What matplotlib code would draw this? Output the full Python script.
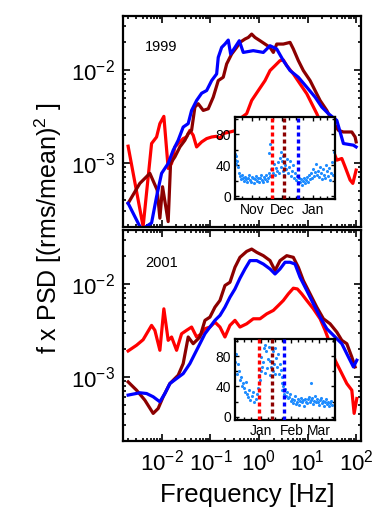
import matplotlib
matplotlib.use("Agg")
import matplotlib.pyplot as plt
import matplotlib.dates as mdates
from matplotlib.ticker import LogLocator, NullFormatter, MultipleLocator
import numpy as np
import pandas as pd

plt.rcParams["font.family"] = ["Liberation Sans", "DejaVu Sans"]
plt.rcParams["mathtext.fontset"] = "custom"
plt.rcParams["mathtext.rm"] = "Liberation Sans"
plt.rcParams["mathtext.it"] = "Liberation Sans"

# ---- spectra, stored as log10(f [Hz]) and log10(f x PSD) ----
# 1999
logf_99_blue = [-2.695, -2.419, -2.212, -2.109, -2.006, -1.870, -1.767, -1.664, -1.561, -1.458,
                -1.388, -1.285, -1.181, -1.078, -0.975, -0.872, -0.839, -0.769, -0.701, -0.633,
                -0.584, -0.495, -0.406, -0.324, -0.118, 0.089, 0.227, 0.365, 0.501, 0.639,
                0.810, 0.984, 1.155, 1.293, 1.429, 1.602, 1.738, 1.944, 2.0]
logp_99_blue = [-3.435, -3.72, -3.646, -3.364, -3.113, -3.006, -2.864, -2.757, -2.615, -2.578,
                -2.436, -2.329, -2.251, -2.222, -2.115, -2.043, -1.865, -1.758, -1.722, -1.679,
                -1.829, -1.758, -1.686, -1.812, -1.793, -1.812, -1.740, -1.775, -1.900, -2.007,
                -2.079, -2.186, -2.293, -2.400, -2.471, -2.543, -2.792, -2.810, -2.829]

logf_99_dred = [-2.695, -2.454, -2.247, -2.097, -2.041, -1.986, -1.870, -1.821, -1.732, -1.629,
                -1.526, -1.458, -1.388, -1.320, -1.252, -1.148, -1.045, -0.942, -0.839, -0.736,
                -0.666, -0.563, -0.460, -0.392, -0.289, -0.221, -0.151, -0.082, 0.021, 0.124,
                0.227, 0.295, 0.365, 0.501, 0.639, 0.707, 0.810, 0.913, 1.052, 1.155,
                1.258, 1.396, 1.499, 1.635, 1.738, 1.911, 1.979, 2.0]
logp_99_dred = [-3.435, -3.221, -3.113, -3.292, -3.595, -3.257, -3.632, -3.006, -2.936, -2.829,
                -2.757, -2.685, -2.650, -2.400, -2.364, -2.436, -2.418, -2.293, -2.115, -2.079,
                -1.936, -1.829, -1.758, -1.704, -1.668, -1.651, -1.615, -1.651, -1.686, -1.722,
                -1.758, -1.812, -1.722, -1.722, -1.704, -1.775, -1.900, -2.007, -2.115, -2.222,
                -2.329, -2.436, -2.543, -2.650, -2.668, -2.668, -2.722, -2.775]

logf_99_red = [-2.695, -2.386, -2.212, -2.109, -2.041, -1.959, -1.870, -1.800, -1.732, -1.629,
               -1.561, -1.491, -1.423, -1.355, -1.285, -1.181, -1.078, -0.975, -0.872, -0.804,
               -0.736, -0.598, -0.460, -0.392, -0.254, -0.151, -0.014, 0.124, 0.227, 0.330,
               0.433, 0.501, 0.571, 0.707, 0.845, 0.984, 1.087, 1.190, 1.293, 1.396,
               1.499, 1.602, 1.705, 1.773, 1.876, 1.932, 2.0]
logp_99_red = [-2.821, -3.685, -2.792, -2.722, -2.578, -2.500, -3.060, -3.006, -2.829, -2.775,
               -2.739, -2.722, -2.650, -2.703, -2.829, -2.775, -2.739, -2.722, -2.714, -2.739,
               -2.685, -2.668, -2.650, -2.525, -2.471, -2.329, -2.222, -2.115, -2.007, -1.954,
               -1.900, -1.893, -1.954, -2.043, -2.150, -2.257, -2.364, -2.471, -2.596, -2.722,
               -2.829, -2.971, -2.953, -3.043, -3.185, -3.221, -3.078]

# 2001
logf_01_blue = [-2.695, -2.454, -2.315, -2.179, -2.041, -1.938, -1.835, -1.697, -1.561, -1.423,
                -1.320, -1.216, -1.113, -1.010, -0.907, -0.804, -0.701, -0.598, -0.495, -0.392,
                -0.289, -0.186, -0.047, 0.089, 0.227, 0.330, 0.433, 0.536, 0.639, 0.742,
                0.845, 0.984, 1.120, 1.258, 1.396, 1.567, 1.705, 1.841, 1.944, 2.014]
logp_01_blue = [-3.196, -3.171, -3.179, -3.214, -3.268, -3.179, -3.072, -3.018, -2.965, -2.857,
                -2.750, -2.643, -2.536, -2.464, -2.392, -2.339, -2.250, -2.143, -2.054, -1.939,
                -1.839, -1.749, -1.749, -1.786, -1.839, -1.893, -1.839, -1.767, -1.767, -1.786,
                -1.928, -2.071, -2.214, -2.357, -2.482, -2.571, -2.643, -2.786, -2.893, -2.821]

logf_01_dred = [-2.695, -2.522, -2.351, -2.179, -2.076, -1.973, -1.835, -1.664, -1.561, -1.458,
                -1.355, -1.216, -1.113, -1.010, -0.907, -0.804, -0.701, -0.598, -0.495, -0.392,
                -0.254, -0.151, -0.047, 0.089, 0.227, 0.330, 0.433, 0.571, 0.707, 0.810,
                0.913, 1.052, 1.190, 1.326, 1.464, 1.602, 1.705, 1.808, 1.911, 1.979]
logp_01_dred = [-3.054, -3.143, -3.250, -3.393, -3.340, -3.214, -3.072, -2.982, -2.857, -2.571,
                -2.643, -2.571, -2.392, -2.357, -2.250, -2.178, -2.017, -1.982, -1.821, -1.714,
                -1.650, -1.625, -1.660, -1.696, -1.749, -1.856, -1.749, -1.696, -1.714, -1.821,
                -1.964, -2.107, -2.250, -2.375, -2.429, -2.518, -2.607, -2.643, -2.786, -2.893]

logf_01_red = [-2.695, -2.522, -2.386, -2.212, -2.144, -2.041, -1.959, -1.870, -1.800, -1.697,
               -1.594, -1.491, -1.388, -1.285, -1.181, -1.113, -1.010, -0.907, -0.804, -0.701,
               -0.598, -0.495, -0.392, -0.254, -0.118, 0.021, 0.159, 0.295, 0.398, 0.501,
               0.604, 0.707, 0.790, 0.880, 0.984, 1.120, 1.258, 1.361, 1.464, 1.567,
               1.670, 1.808, 1.911, 1.959, 2.014]
logp_01_red = [-2.721, -2.660, -2.600, -2.446, -2.499, -2.714, -2.268, -2.607, -2.571, -2.714,
               -2.536, -2.499, -2.464, -2.571, -2.536, -2.482, -2.464, -2.411, -2.464, -2.571,
               -2.446, -2.392, -2.464, -2.429, -2.375, -2.375, -2.322, -2.285, -2.232, -2.178,
               -2.107, -2.046, -2.054, -2.107, -2.178, -2.268, -2.375, -2.499, -2.643, -2.821,
               -2.928, -3.072, -3.143, -3.393, -3.233]

# ---- inset time series: day offset from start date, value ----
start_99 = "1999-10-15"
end_99 = "2000-01-23"
days_99 = [0, 0, 1, 1, 2, 3, 4, 5, 6, 7, 8, 9, 10, 11, 12, 13, 14, 15, 16, 17, 18, 19, 20,
           21, 22, 23, 24, 25, 26, 27, 28, 29, 30, 31, 32, 33, 34, 34, 35, 35, 36, 37, 38,
           39, 40, 41, 42, 43, 44, 45, 46, 46, 47, 48, 48, 49, 50, 51, 52, 53, 54, 55, 56,
           57, 58, 59, 60, 61, 62, 63, 64, 65, 66, 67, 68, 69, 70, 71, 72, 73, 74, 75, 76,
           77, 78, 79, 80, 81, 82, 83, 84, 85, 86, 87, 88, 89, 90, 91, 92, 93, 94, 95, 96,
           97, 98, 99]
vals_99 = [55, 47, 52, 42, 45, 38, 30, 26, 22, 28, 24, 20, 25, 22, 18, 24, 27, 21, 19, 25, 23,
           17, 22, 26, 20, 24, 19, 23, 28, 21, 18, 25, 22, 27, 20, 24, 30, 56, 68, 26, 35, 62,
           30, 42, 27, 36, 33, 44, 30, 50, 38, 57, 45, 32, 52, 28, 40, 35, 48, 30, 38, 45, 26,
           33, 40, 24, 30, 21, 26, 19, 24, 18, 22, 15, 20, 23, 17, 21, 25, 19, 28, 22, 30, 24,
           35, 26, 31, 42, 28, 33, 25, 38, 30, 22, 35, 28, 24, 40, 32, 26, 36, 21, 30, 44, 28,
           57]
events_99 = ["1999-11-21", "1999-12-03", "1999-12-17"]
months_99 = ["1999-11-01", "1999-12-01", "2000-01-01"]
month_names_99 = ["Nov", "Dec", "Jan"]

start_01 = "2000-12-06"
end_01 = "2001-03-17"
days_01 = [0, 1, 2, 3, 4, 5, 6, 7, 8, 9, 10, 11, 12, 13, 14, 15, 17, 18, 19, 21, 22, 23, 24,
           25, 26, 26, 27, 28, 29, 30, 30, 31, 32, 33, 34, 35, 35, 36, 37, 38, 38, 39, 40,
           40, 41, 42, 43, 44, 45, 46, 47, 48, 48, 49, 50, 51, 52, 53, 54, 55, 56, 57, 58,
           59, 60, 61, 62, 63, 64, 65, 66, 67, 68, 69, 70, 71, 72, 73, 74, 75, 76, 77, 77,
           78, 79, 80, 81, 82, 83, 84, 85, 86, 87, 88, 89, 90, 91, 92, 93, 94, 95, 96, 97,
           98]
vals_01 = [72, 83, 57, 70, 60, 48, 52, 40, 44, 38, 33, 46, 30, 26, 35, 22, 28, 33, 20, 24, 30,
           38, 55, 48, 61, 79, 66, 72, 90, 94, 58, 87, 64, 76, 92, 74, 55, 66, 81, 87, 60, 70,
           57, 90, 78, 65, 83, 56, 70, 62, 45, 35, 52, 40, 30, 37, 28, 33, 25, 26, 30, 21, 24,
           18, 22, 27, 17, 20, 23, 16, 21, 25, 19, 22, 15, 24, 20, 18, 23, 26, 19, 44, 22, 25,
           17, 21, 28, 19, 24, 20, 16, 22, 25, 18, 21, 14, 19, 23, 17, 20, 15, 18, 21, 16]
events_01 = ["2000-12-30", "2001-01-12", "2001-01-25"]
months_01 = ["2001-01-01", "2001-02-01", "2001-03-01"]
month_names_01 = ["Jan", "Feb", "Mar"]

BLUE = (0, 0, 1)
DRED = (0.55, 0, 0)
RED = (1, 0, 0)
EVENT_COLORS = [RED, DRED, BLUE]
DOT = "#1e8cff"


def style_main(ax, show_x):
    ax.set_xscale("log")
    ax.set_yscale("log")
    ax.set_xlim(10 ** -2.8, 10 ** 2.1)
    ax.set_ylim(10 ** -3.69, 10 ** -1.42)
    ax.set_yticks([1e-3, 1e-2])
    ax.set_yticklabels([r"$10^{-3}$", r"$10^{-2}$"])
    ax.set_xticks([1e-2, 1e-1, 1, 10, 100])
    if show_x:
        ax.set_xticklabels([r"$10^{-2}$", r"$10^{-1}$", r"$10^{0}$", r"$10^{1}$", r"$10^{2}$"])
    else:
        ax.set_xticklabels([])
    ax.xaxis.set_minor_locator(LogLocator(base=10, subs=np.arange(2, 10), numticks=20))
    ax.yaxis.set_minor_locator(LogLocator(base=10, subs=np.arange(2, 10), numticks=20))
    ax.xaxis.set_minor_formatter(NullFormatter())
    ax.yaxis.set_minor_formatter(NullFormatter())
    ax.tick_params(which="both", direction="in", top=True, right=True, labelsize=16, width=1.2)
    ax.tick_params(which="major", length=5, pad=6)
    ax.tick_params(which="minor", length=2.5)
    for s in ax.spines.values():
        s.set_linewidth(1.6)


def draw_inset(fig, rect, start, end, days, vals, events, months, names):
    ins = fig.add_axes(rect)
    dates = pd.to_datetime(start) + pd.to_timedelta(days, unit="D")
    ins.scatter(dates, vals, s=5, color=DOT, linewidths=0, zorder=2)
    for d, c in zip(events, EVENT_COLORS):
        ins.axvline(pd.to_datetime(d), color=c, lw=2.4, linestyle=(0, (1.2, 0.9)), zorder=3)
    ins.set_xlim(pd.to_datetime(start), pd.to_datetime(end))
    ins.set_ylim(-4, 102)
    ins.set_yticks([0, 40, 80])
    ins.yaxis.set_minor_locator(MultipleLocator(20))
    ins.set_xticks(pd.to_datetime(months))
    ins.set_xticklabels(names)
    ins.xaxis.set_minor_locator(mdates.DayLocator(bymonthday=[8, 15, 22]))
    ins.tick_params(which="both", direction="in", top=True, right=True, labelsize=10, width=1)
    ins.tick_params(which="major", length=3, pad=3)
    ins.tick_params(which="minor", length=2)
    for s in ins.spines.values():
        s.set_linewidth(1.6)
    return ins


fig = plt.figure(figsize=(3.73, 5.14), dpi=100)

ax1 = fig.add_axes([0.3298, 0.5584, 0.638, 0.4105])
ax1.plot(10 ** np.array(logf_99_red), 10 ** np.array(logp_99_red), color=RED, lw=2.3)
ax1.plot(10 ** np.array(logf_99_dred), 10 ** np.array(logp_99_dred), color=DRED, lw=2.3)
ax1.plot(10 ** np.array(logf_99_blue), 10 ** np.array(logp_99_blue), color=BLUE, lw=2.3)
style_main(ax1, show_x=False)
ax1.text(0.092, 0.855, "1999", transform=ax1.transAxes, fontsize=10.5, va="center")

ax2 = fig.add_axes([0.3298, 0.1420, 0.638, 0.4105])
ax2.plot(10 ** np.array(logf_01_red), 10 ** np.array(logp_01_red), color=RED, lw=2.3)
ax2.plot(10 ** np.array(logf_01_dred), 10 ** np.array(logp_01_dred), color=DRED, lw=2.3)
ax2.plot(10 ** np.array(logf_01_blue), 10 ** np.array(logp_01_blue), color=BLUE, lw=2.3)
style_main(ax2, show_x=True)
ax2.text(0.092, 0.844, "2001", transform=ax2.transAxes, fontsize=10.5, va="center")

draw_inset(fig, [0.630, 0.6122, 0.268, 0.1596], start_99, end_99, days_99, vals_99,
           events_99, months_99, month_names_99)
draw_inset(fig, [0.630, 0.1829, 0.268, 0.157], start_01, end_01, days_01, vals_01,
           events_01, months_01, month_names_01)

fig.text(48 / 373, 1 - 228 / 514, r"f x PSD [(rms/mean)$^2$ ]", rotation=90,
         ha="center", va="center", fontsize=18)
fig.text(247 / 373, 1 - 495 / 514, "Frequency [Hz]", ha="center", va="center", fontsize=18.5)

fig.savefig("out.png", dpi=100)
